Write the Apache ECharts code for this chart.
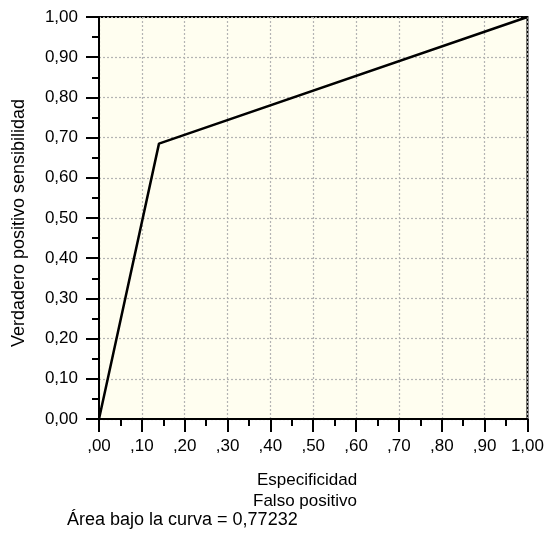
<!DOCTYPE html>
<html>
<head>
<meta charset="utf-8">
<script src="https://cdn.jsdelivr.net/npm/echarts@6/dist/echarts.min.js"></script>
<style>
html,body{margin:0;padding:0;background:#fff;}
#c{width:547px;height:545px;}
</style>
</head>
<body>
<div id="c"></div>
<script>
// Data
const fpr = [0.00, 0.14, 1.00];
const tpr = [0.00, 0.685, 1.00];
const xTickLabels = [',00', ',10', ',20', ',30', ',40', ',50', ',60', ',70', ',80', ',90', '1,00'];
const yTickLabels = ['0,00', '0,10', '0,20', '0,30', '0,40', '0,50', '0,60', '0,70', '0,80', '0,90', '1,00'];
const xTitle = ['Especificidad', 'Falso positivo'];
const yTitle = 'Verdadero positivo sensibilidad';
const areaText = 'Área bajo la curva = 0,77232';

const FONT = 'Liberation Sans, Arial, Helvetica, sans-serif';
const chart = echarts.init(document.getElementById('c'), null, {renderer: 'canvas'});

function idx(v) { return Math.round(v * 10); }

const axisCommon = {
  type: 'value', min: 0, max: 1, interval: 0.1,
  axisLine: {show: true, onZero: false, lineStyle: {color: '#000', width: 2}},
  axisTick: {show: true, length: 13, lineStyle: {color: '#000', width: 2}},
  minorTick: {show: true, splitNumber: 2, length: 7, lineStyle: {color: '#000', width: 2}},
  splitLine: {show: true, lineStyle: {color: '#b4b4b4', type: [2, 2], width: 1.2}},
  minorSplitLine: {show: false}
};

chart.setOption({
  animation: false,
  backgroundColor: '#fff',
  grid: {left: 99, top: 17, right: 13, bottom: 126, show: true, backgroundColor: '#fffef0', borderColor: '#000', borderWidth: 2},
  xAxis: Object.assign({}, axisCommon, {
    axisLabel: {margin: 19, color: '#000', fontFamily: FONT, fontSize: 17,
      formatter: v => xTickLabels[idx(v)]}
  }),
  yAxis: Object.assign({}, axisCommon, {
    axisLabel: {margin: 21, color: '#000', fontFamily: FONT, fontSize: 17,
      formatter: v => yTickLabels[idx(v)]}
  }),
  series: [{
    type: 'line',
    data: fpr.map((x, i) => [x, tpr[i]]),
    showSymbol: false,
    lineStyle: {color: '#000', width: 2.5},
    z: 5
  }],
  graphic: [
    {type: 'text', x: 307, y: 480, style: {text: xTitle[0], fill: '#000', font: '17px ' + FONT, textAlign: 'center', textVerticalAlign: 'middle'}},
    {type: 'text', x: 305, y: 501, style: {text: xTitle[1], fill: '#000', font: '17px ' + FONT, textAlign: 'center', textVerticalAlign: 'middle'}},
    {type: 'text', x: 67, y: 520, style: {text: areaText, fill: '#000', font: '18px ' + FONT, textAlign: 'left', textVerticalAlign: 'middle'}},
    {type: 'text', x: 19, y: 223, rotation: Math.PI / 2, style: {text: yTitle, fill: '#000', font: '18px ' + FONT, textAlign: 'center', textVerticalAlign: 'middle'}}
  ]
});
</script>
</body>
</html>
